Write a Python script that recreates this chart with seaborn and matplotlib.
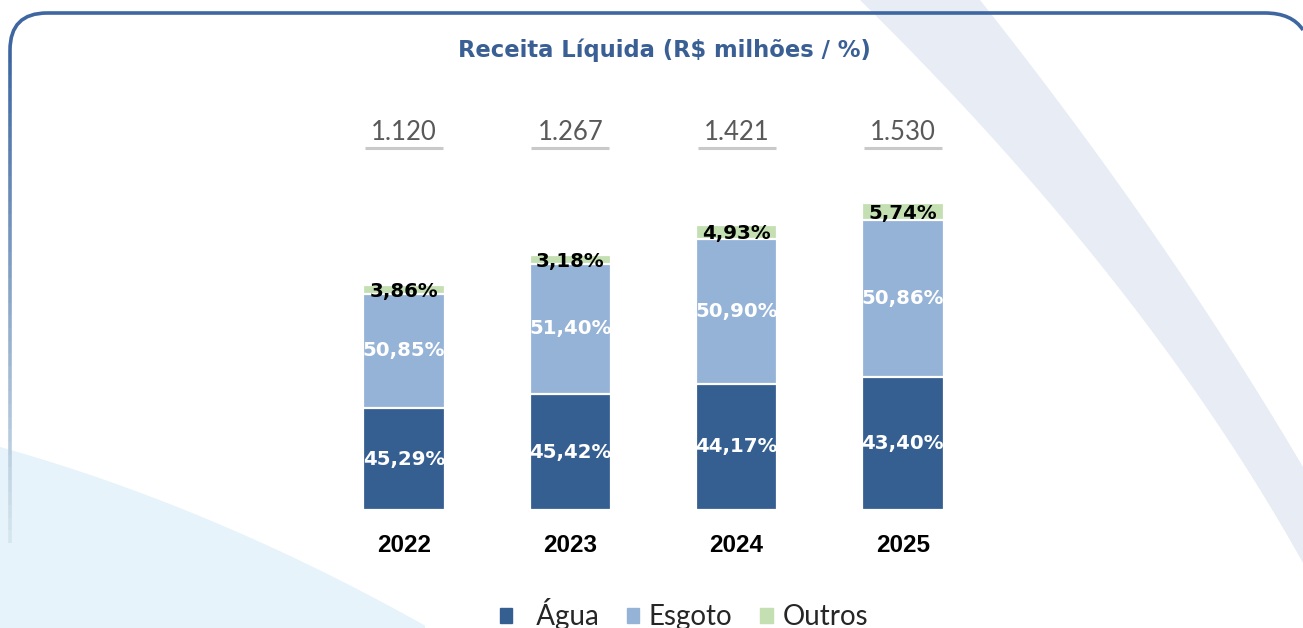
import matplotlib.pyplot as plt
from matplotlib.patches import Patch, Polygon, PathPatch
from matplotlib.path import Path
from matplotlib.collections import LineCollection
import numpy as np
import pandas as pd
import seaborn as sns


YEARS = ["2022", "2023", "2024", "2025"]
TOTALS = [1120, 1267, 1421, 1530]
TOTAL_LABELS = ["1.120", "1.267", "1.421", "1.530"]
AGUA = [45.29, 45.42, 44.17, 43.40]
ESGOTO = [50.85, 51.40, 50.90, 50.86]
OUTROS = [3.86, 3.18, 4.93, 5.74]

C_AGUA = "#365f91"
C_ESGOTO = "#95b3d7"
C_OUTROS = "#c4e0b2"
C_TITLE = "#3a5f94"
W, H = 1303, 628


def pct(v: float) -> str:
    return f"{v:.2f}%".replace(".", ",")


def main() -> None:
    sns.set_style("white")
    plt.rcParams["font.family"] = ["Lato", "DejaVu Sans"]

    df = pd.DataFrame({"year": YEARS, "total": TOTALS, "agua": AGUA, "esgoto": ESGOTO, "outros": OUTROS})
    df["agua_top"] = df["total"] * df["agua"] / 100
    df["esgoto_top"] = df["total"] * (df["agua"] + df["esgoto"]) / 100
    df["outros_top"] = df["total"] * (df["agua"] + df["esgoto"] + df["outros"]) / 100

    fig = plt.figure(figsize=(W / 100, H / 100), dpi=100)

    # background decorations in pixel coordinates
    bg = fig.add_axes([0, 0, 1, 1])
    bg.set_xlim(0, W)
    bg.set_ylim(H, 0)
    bg.set_axis_off()
    yr = np.linspace(0, 467, 40)
    yl = np.linspace(563, 0, 40)
    right_edge = list(zip(980 + 0.7937 * yr - 0.0002185 * yr ** 2, yr))
    left_edge = list(zip(860 + 1.0166 * yl - 0.000408 * yl ** 2, yl))
    bg.add_patch(Polygon(right_edge + [(W + 5, 467), (W + 5, 563)] + left_edge, closed=True,
                         color="#e7ecf5", lw=0))
    xs = np.linspace(0, 425, 60)
    ys = 447 + 0.28 * xs + 0.00033 * xs ** 2
    bg.add_patch(Polygon(list(zip(xs, ys)) + [(425, H), (0, H)], closed=True, color="#e6f3fa", lw=0))
    border = Path([(47, 13), (1265, 13), (1292, 13), (1303, 30)],
                  [Path.MOVETO, Path.LINETO, Path.CURVE3, Path.CURVE3])
    bg.add_patch(PathPatch(border, fill=False, edgecolor="#3e66a0", lw=2.6))
    corner = Path([(10, 50), (10, 13), (47, 13)], [Path.MOVETO, Path.CURVE3, Path.CURVE3])
    bg.add_patch(PathPatch(corner, fill=False, edgecolor="#3e66a0", lw=2.6))
    yy = np.linspace(50, 543, 40)
    segs = [[(10, yy[i]), (10, yy[i + 1])] for i in range(len(yy) - 1)]
    cols = [(0.24 + 0.6 * t, 0.40 + 0.5 * t, 0.63 + 0.3 * t) for t in np.linspace(0, 1, len(segs))]
    bg.add_collection(LineCollection(segs, colors=cols, linewidths=2.6))

    # main chart
    ax = fig.add_axes([321 / W, (H - 510) / H, 665 / W, 401.8 / H])
    ax.patch.set_alpha(0)
    kw = dict(width=0.49, edgecolor="white", linewidth=1.6, saturation=1, ax=ax)
    sns.barplot(data=df, x="year", y="outros_top", color=C_OUTROS, **kw)
    sns.barplot(data=df, x="year", y="esgoto_top", color=C_ESGOTO, **kw)
    sns.barplot(data=df, x="year", y="agua_top", color=C_AGUA, **kw)
    ax.set_xlim(-0.5, 3.5)
    ax.set_ylim(0, 2000)
    ax.set_xlabel("")
    ax.set_ylabel("")
    ax.set_yticks([])
    ax.tick_params(axis="x", length=0, pad=17)
    for lab in ax.get_xticklabels():
        lab.set_fontfamily("Liberation Sans")
        lab.set_fontweight("bold")
        lab.set_fontsize(17.5)
        lab.set_color("black")
    sns.despine(ax=ax, left=True, bottom=True)

    pfont = dict(ha="center", va="center", fontsize=14.2, fontweight="bold", family="DejaVu Sans")
    for i, row in df.iterrows():
        ax.text(i, row["agua_top"] / 2, pct(row["agua"]), color="white", **pfont)
        ax.text(i, (row["agua_top"] + row["esgoto_top"]) / 2, pct(row["esgoto"]), color="white", **pfont)
        ax.text(i, (row["esgoto_top"] + row["outros_top"]) / 2 - 12, pct(row["outros"]), color="black", **pfont)
        ax.text(i, 1881, TOTAL_LABELS[i], ha="center", va="center", color="#595959", fontsize=18.5)
        ax.plot([i - 0.235, i + 0.235], [1802, 1802], color="#c9c9c9", lw=2.2, solid_capstyle="butt")

    fig.text(664 / W, 1 - 50 / H, "Receita Líquida (R$ milhões / %)", ha="center", va="center",
             color=C_TITLE, fontsize=16.3, fontweight="bold", family="DejaVu Sans")

    handles = [Patch(color=C_AGUA), Patch(color=C_ESGOTO), Patch(color=C_OUTROS)]
    fig.legend(handles, ["  Água", "Esgoto", "Outros"], loc="center", bbox_to_anchor=(684 / W, 1 - 614 / H),
               ncol=3, frameon=False, fontsize=20, handlelength=0.45, handleheight=0.45,
               columnspacing=1.0, handletextpad=0.35)

    fig.savefig("out.png", dpi=100)
    plt.close(fig)


if __name__ == "__main__":
    main()
